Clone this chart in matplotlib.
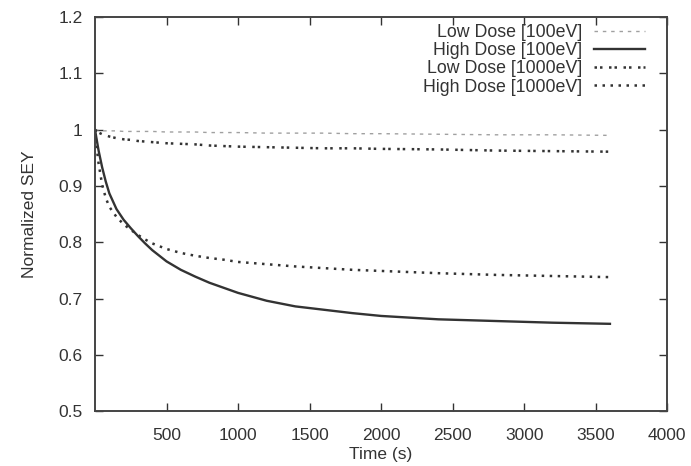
import matplotlib
matplotlib.use("Agg")
import matplotlib.pyplot as plt
from matplotlib.ticker import FormatStrFormatter

plt.rcParams["font.family"] = ["Liberation Sans", "DejaVu Sans"]

# time axis shared by all curves (seconds)
time_s = [0, 10, 25, 50, 75, 100, 150, 200, 250, 300, 350, 400, 500, 600,
          700, 800, 900, 1000, 1200, 1400, 1600, 1800, 2000, 2400, 2800,
          3200, 3600]

# normalized SEY values
low_100 = [1.0, 0.999, 0.999, 0.998, 0.998, 0.998, 0.998, 0.997, 0.997,
           0.997, 0.997, 0.997, 0.996, 0.996, 0.996, 0.995, 0.995, 0.995,
           0.994, 0.994, 0.994, 0.993, 0.993, 0.992, 0.991, 0.991, 0.990]
high_100 = [1.0, 0.985, 0.963, 0.933, 0.908, 0.887, 0.859, 0.840, 0.825,
            0.811, 0.798, 0.786, 0.766, 0.751, 0.739, 0.728, 0.719, 0.710,
            0.696, 0.686, 0.680, 0.674, 0.669, 0.663, 0.660, 0.657, 0.655]
low_1000 = [1.0, 0.998, 0.995, 0.992, 0.990, 0.988, 0.985, 0.983, 0.982,
            0.980, 0.979, 0.978, 0.976, 0.975, 0.974, 0.972, 0.971, 0.970,
            0.969, 0.968, 0.967, 0.967, 0.966, 0.965, 0.963, 0.962, 0.961]
high_1000 = [1.0, 0.972, 0.940, 0.902, 0.879, 0.863, 0.845, 0.832, 0.822,
             0.813, 0.805, 0.798, 0.788, 0.781, 0.776, 0.772, 0.769, 0.765,
             0.761, 0.757, 0.754, 0.751, 0.749, 0.745, 0.742, 0.740, 0.738]

labels = ["Low Dose [100eV]", "High Dose [100eV]",
          "Low Dose [1000eV]", "High Dose [1000eV]"]

x_ticks = [500, 1000, 1500, 2000, 2500, 3000, 3500, 4000]
y_ticks = [0.5, 0.6, 0.7, 0.8, 0.9, 1.0, 1.1, 1.2]

ink = "#333333"

fig = plt.figure(figsize=(6.91, 4.66), dpi=100)
ax = fig.add_axes([0.1375, 0.118, 0.828, 0.845])

ax.plot(time_s, low_100, color="#a0a0a0", lw=1.0, linestyle=(0, (2.5, 3.5)),
        label=labels[0])
ax.plot(time_s, high_100, color=ink, lw=1.7, label=labels[1])
ax.plot(time_s, low_1000, color=ink, lw=1.8,
        linestyle=(0, (1, 1.2, 1, 2.6)), label=labels[2])
ax.plot(time_s, high_1000, color=ink, lw=1.8, linestyle=(0, (1, 2.2)),
        label=labels[3])

ax.set_xlim(0, 4000)
ax.set_ylim(0.5, 1.2)
ax.set_xticks(x_ticks)
ax.set_yticks(y_ticks)
ax.yaxis.set_major_formatter(FormatStrFormatter("%g"))
ax.tick_params(direction="in", length=6, width=1.0, colors=ink,
               labelsize=12.5, top=True, right=True)
ax.tick_params(axis="y", pad=9)
ax.tick_params(axis="x", pad=12)
for s in ax.spines.values():
    s.set_color("#444444")
    s.set_linewidth(1.4)

ax.set_xlabel("Time (s)", fontsize=12.5, color=ink, labelpad=3)
ax.set_ylabel("Normalized SEY", fontsize=12.5, color=ink, labelpad=15)

ax.legend(loc="upper right", bbox_to_anchor=(0.962, 0.982), frameon=False,
          markerfirst=False, fontsize=12.8, handlelength=2.9,
          handletextpad=0.67, labelspacing=0.06, borderpad=0,
          borderaxespad=0, labelcolor=ink)

fig.savefig("out.png", dpi=100)
